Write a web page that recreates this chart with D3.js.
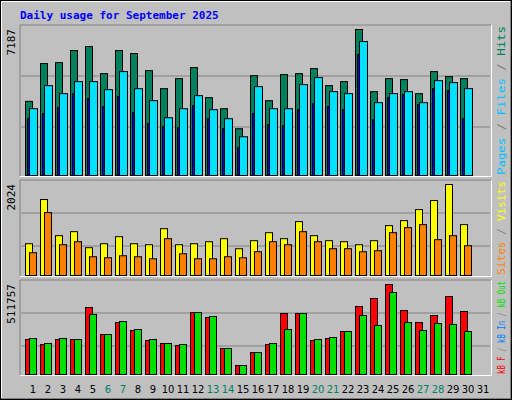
<!DOCTYPE html>
<html><head><meta charset="utf-8">
<script src="https://cdn.jsdelivr.net/npm/d3@7"></script>
<style>body{margin:0;background:#fff}</style>
</head><body>
<svg id="chart" width="512" height="400"></svg>
<script>
const days = d3.range(1, 32);
const weekends = [6, 7, 13, 14, 20, 21, 27, 28];
const hits = [3675,5520,5569,6157,6353,5030,6157,6010,5177,4295,4785,5324,3854,3315,2335,4932,3707,4981,5030,5275,4442,4638,7187,4148,4785,4736,4050,5128,4883,4785];
const files = [3315,4442,4050,4638,4638,4246,5128,4295,3707,2874,3315,3952,3266,2825,1943,4393,3315,3315,4491,4834,4148,4050,6597,3609,4050,4148,3609,4687,4589,4295];
const pages = [2825,3070,3364,4050,3805,3413,3903,3119,2580,2433,2384,3462,2825,2335,1404,3070,2531,2482,3266,3560,3413,3266,5960,2776,3854,4001,3511,4295,4197,2825];
const visits = [721,1693,898,986,633,721,876,721,699,1052,699,721,765,832,611,788,964,832,1207,898,788,765,699,788,1119,1229,1472,1671,2024,1141];
const sites = [523,1406,699,765,434,412,456,434,390,832,500,390,390,434,412,545,765,699,986,765,611,611,545,567,964,1075,1141,810,898,677];
const kbF = [202457,174338,202457,202457,382418,230576,298061,253071,196833,179962,168714,354299,326180,151843,56238,129347,174338,348676,348676,196833,208081,247447,388042,433033,511757,365547,298061,337428,444280,359923];
const kbOut = [208081,179962,208081,202457,343052,230576,303685,258695,202457,179962,174338,354299,331804,151843,56238,129347,179962,258695,348676,202457,213704,247447,337428,281190,466775,298061,253071,292438,286814,247447];
const kbIn = kbOut.map(() => 0);

const svg = d3.select('#chart');
// outer 3D frame
svg.append('rect').attr('x', 0).attr('y', 0).attr('width', 512).attr('height', 400).attr('fill', '#c0c0c0');
svg.append('path').attr('d', 'M1,399V1H511').attr('stroke', '#fff').attr('stroke-width', 2).attr('fill', 'none');
svg.append('path').attr('d', 'M1,399H511V1').attr('stroke', '#808080').attr('stroke-width', 2).attr('fill', 'none');
svg.append('rect').attr('x', 0.5).attr('y', 0.5).attr('width', 511).attr('height', 399).attr('fill', 'none').attr('stroke', '#000');

svg.append('text').attr('x', 20).attr('y', 19).text('Daily usage for September 2025')
  .attr('font-family', 'DejaVu Sans Mono').attr('font-weight', 'bold').attr('font-size', 11).attr('fill', '#0000ff');

const x = d3.scaleBand().domain(days).range([25, 490]).paddingInner(0);

const panels = [
  { top: 25, bottom: 176, maxTop: 29, max: 7187, grids: [76, 127],
    series: [{ d: hits, c: '#00805c', off: 0, w: 7 }, { d: files, c: '#00e0ff', off: 4, w: 8 }, { d: pages, c: '#0000ff', off: 2, w: 2 }],
    label: [['Pages', '#00c0ff'], [' / ', '#808080'], ['Files', '#00c0ff'], [' / ', '#808080'], ['Hits', '#00805c']] },
  { top: 180, bottom: 276, maxTop: 184, max: 2024, grids: [213, 246],
    series: [{ d: visits, c: '#ffff00', off: 0, w: 7 }, { d: sites, c: '#ff8000', off: 4, w: 7 }],
    label: [['Sites', '#ff8000'], [' / ', '#808080'], ['Visits', '#ffff00']] },
  { top: 280, bottom: 375, maxTop: 284, max: 511757, grids: [313, 346],
    series: [{ d: kbF, c: '#ff0000', off: 0, w: 7 }, { d: kbOut, c: '#00e000', off: 4, w: 7 }, { d: kbIn, c: '#0080ff', off: 2, w: 2 }],
    label: [['kB F', '#ff0000'], [' / ', '#808080'], ['kB In', '#0080ff'], [' / ', '#808080'], ['kB Out', '#00e000']] }
];

panels.forEach(p => {
  svg.append('path').attr('d', `M20,${p.bottom}V${p.top}H491`).attr('stroke', '#808080').attr('fill', 'none');
  svg.append('path').attr('d', `M20,${p.bottom + 0.5}H491.5V${p.top}`).attr('stroke', '#fff').attr('fill', 'none');
  const y = d3.scaleLinear().domain([0, p.max]).range([p.bottom, p.maxTop]);
  p.grids.forEach(g => svg.append('line').attr('x1', 21).attr('x2', 490).attr('y1', g).attr('y2', g).attr('stroke', '#808080'));
  p.series.forEach(s => {
    svg.append('g').selectAll('rect').data(s.d).join('rect')
      .attr('x', (d, i) => x(days[i]) + s.off + 0.5)
      .attr('y', d => y(d) + 0.5)
      .attr('width', s.w)
      .attr('height', d => Math.max(0, p.bottom - y(d) - 1))
      .attr('fill', s.c).attr('stroke', '#000').attr('stroke-width', 1);
  });
  svg.append('text').attr('transform', `translate(15,${p.top + 4}) rotate(-90)`).attr('text-anchor', 'end')
    .attr('font-family', 'DejaVu Sans Mono').attr('font-size', 11).attr('fill', '#000').text(d3.max(p.series[0].d));
  const t = svg.append('text').attr('transform', `translate(505,${p.bottom - 1}) rotate(-90)`)
    .attr('font-family', 'DejaVu Sans Mono').attr('font-size', 10)
    .attr('textLength', p.bottom - p.top - 2).attr('lengthAdjust', 'spacingAndGlyphs');
  p.label.forEach(([s, c]) => t.append('tspan').attr('fill', c).text(s));
});

svg.append('g').selectAll('text').data(days).join('text')
  .attr('x', d => x(d) + 8).attr('y', 393).attr('text-anchor', 'middle')
  .attr('font-family', 'DejaVu Sans').attr('font-size', 10)
  .attr('fill', d => weekends.includes(d) ? '#008060' : '#000').text(d => d);
</script>
</body></html>
